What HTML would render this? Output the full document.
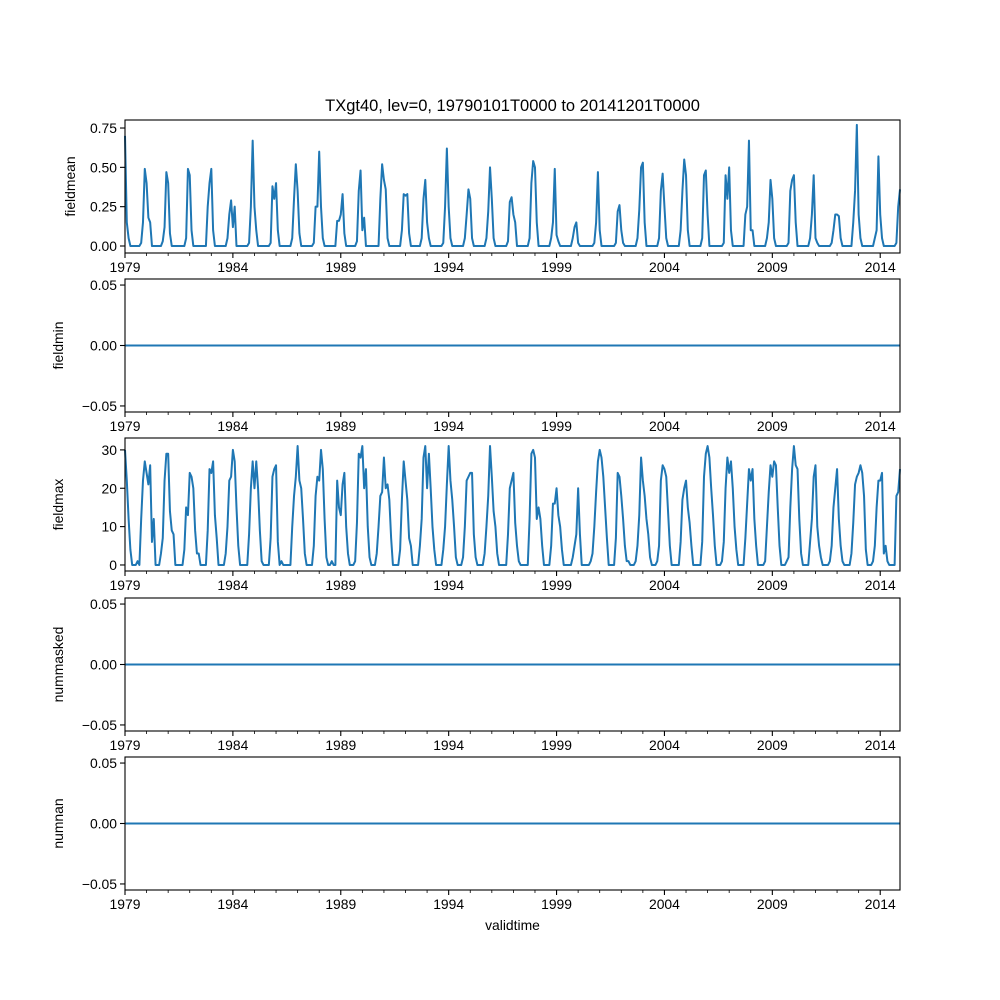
<!DOCTYPE html>
<html><head><meta charset="utf-8"><style>
body{margin:0;background:#fff;}
svg{display:block;font-family:"Liberation Sans","DejaVu Sans",sans-serif;}
</style></head><body>
<svg id="fig" width="1000" height="1000" viewBox="0 0 1000 1000"></svg>
<script>
const years = [1979,1984,1989,1994,1999,2004,2009,2014];
const meanTicks = [0, 0.25, 0.5, 0.75];
const meanTickLabels = ["0.00","0.25","0.50","0.75"];
const maxTicks = [0, 10, 20, 30];
const zeroTicks = [-0.05, 0, 0.05];
const zeroTickLabels = ["\u22120.05","0.00","0.05"];
const fieldmean = [
.70,.15,.05,0,0,0,0,0,0,.02,.15,.49,
.40,.18,.15,0,0,0,0,0,0,.03,.12,.47,
.40,.08,0,0,0,0,0,0,0,0,.05,.49,
.45,.10,0,0,0,0,0,0,0,0,.25,.40,
.49,.10,0,0,0,0,0,0,0,.05,.20,.29,
.12,.25,0,0,0,0,0,0,0,.02,.25,.67,
.25,.10,0,0,0,0,0,0,0,.02,.38,.30,
.40,.10,0,0,0,0,0,0,0,.05,.30,.52,
.35,.08,0,0,0,0,0,0,0,.02,.25,.25,
.60,.25,.05,0,0,0,0,0,0,0,.16,.16,
.20,.33,.08,0,0,0,0,0,0,.03,.35,.48,
.10,.18,0,0,0,0,0,0,0,0,.30,.52,
.42,.36,.05,0,0,0,0,0,0,0,.10,.33,
.32,.33,.08,0,0,0,0,0,0,.05,.30,.42,
.15,.05,0,0,0,0,0,0,0,.02,.25,.62,
.25,.05,0,0,0,0,0,0,0,.05,.20,.36,
.30,.05,0,0,0,0,0,0,0,.05,.22,.50,
.30,.05,0,0,0,0,0,0,0,.03,.28,.31,
.20,.15,0,0,0,0,0,0,0,.05,.40,.54,
.50,.15,0,0,0,0,0,0,0,.05,.15,.49,
.07,.03,0,0,0,0,0,0,0,.05,.12,.15,
.02,0,0,0,0,0,0,0,0,.02,.15,.47,
.10,0,0,0,0,0,0,0,0,.02,.22,.26,
.10,.02,0,0,0,0,0,0,0,.05,.23,.50,
.53,.15,0,0,0,0,0,0,0,.05,.35,.46,
.25,.05,0,0,0,0,0,0,0,.10,.35,.55,
.45,.10,0,0,0,0,0,0,0,.05,.45,.48,
.20,0,0,0,0,0,0,0,0,.02,.45,.30,
.50,.10,0,0,0,0,0,0,0,.20,.25,.67,
.10,.10,0,0,0,0,0,0,0,.05,.15,.42,
.30,.05,0,0,0,0,0,0,0,.02,.35,.42,
.45,.15,0,0,0,0,0,0,0,.05,.20,.45,
.05,.02,0,0,0,0,0,0,0,.02,.10,.20,
.20,.19,.05,0,0,0,0,0,0,.15,.35,.77,
.20,.05,0,0,0,0,0,0,0,.05,.10,.57,
.20,.05,0,0,0,0,0,0,0,.02,.25,.36];
const fieldmax = [
30,22,12,4,0,0,0,1,0,12,22,27,
24,21,26,6,12,0,0,0,3,7,22,29,
29,14,9,8,0,0,0,0,0,4,15,13,
24,23,20,9,3,3,0,0,0,0,9,25,
24,27,13,7,0,0,0,0,3,10,22,23,
30,27,15,5,0,0,0,0,0,8,20,27,
20,27,20,9,1,0,0,0,0,7,23,25,
26,6,0,1,0,0,0,0,0,10,18,23,
31,22,20,12,3,0,0,0,0,5,18,23,
22,30,25,12,2,0,0,1,0,0,22,15,
13,21,24,10,3,0,0,0,1,11,29,28,
31,20,25,10,2,0,0,0,3,10,18,19,
28,20,21,17,7,0,0,0,0,4,17,27,
22,17,7,5,0,0,0,0,5,12,28,31,
20,29,20,10,4,0,0,0,0,4,10,21,
31,22,17,10,2,0,0,0,2,10,22,23,
24,24,8,2,0,0,0,0,3,10,18,31,
23,14,10,3,0,0,0,0,0,8,20,22,
24,11,5,1,0,0,0,0,0,12,29,30,
28,12,15,12,5,0,0,0,0,5,16,16,
20,13,10,4,0,0,0,0,0,2,5,8,
20,8,0,0,0,0,0,1,3,10,19,27,
30,28,23,15,7,0,0,0,0,7,24,23,
18,12,5,1,1,0,0,0,1,5,13,28,
22,18,12,8,2,0,0,0,1,5,22,26,
25,23,14,5,0,0,0,0,0,6,17,20,
22,15,11,5,0,0,0,0,0,6,23,29,
31,28,20,13,5,0,0,0,1,6,20,28,
24,27,20,10,4,0,0,0,0,7,16,25,
22,25,12,5,0,0,0,0,1,10,19,26,
23,27,26,15,5,0,0,0,1,2,15,25,
31,26,25,12,3,0,0,0,0,6,12,23,
26,10,5,2,0,0,0,0,1,5,15,20,
25,12,5,1,0,0,0,0,3,11,21,23,
24,26,24,18,4,0,0,0,1,5,15,22,
22,24,3,5,1,0,0,0,0,18,19,25];
const fieldmin = new Array(fieldmean.length).fill(0);
const nummasked = new Array(fieldmean.length).fill(0);
const numnan = new Array(fieldmean.length).fill(0);

const NS="http://www.w3.org/2000/svg";
const svg=document.getElementById('fig');
function mk(tag,attrs,parent){const e=document.createElementNS(NS,tag);for(const k in attrs)e.setAttribute(k,attrs[k]);(parent||svg).appendChild(e);return e;}
const L=125,R=900;
const x0=1979, x1=2014+11/12;
function xs(t){return L+(t-x0)/(x1-x0)*(R-L);}

const panels=[
 {name:'fieldmean',top:120,bot:253,ymin:-0.0445,ymax:0.801,data:fieldmean,ticks:meanTicks,labels:meanTickLabels},
 {name:'fieldmin',top:279,bot:412,ymin:-0.055,ymax:0.055,data:fieldmin,ticks:zeroTicks,labels:zeroTickLabels},
 {name:'fieldmax',top:438,bot:571,ymin:-1.57,ymax:33.1,data:fieldmax,ticks:maxTicks,labels:maxTicks.map(String)},
 {name:'nummasked',top:598,bot:731,ymin:-0.055,ymax:0.055,data:nummasked,ticks:zeroTicks,labels:zeroTickLabels},
 {name:'numnan',top:757,bot:890,ymin:-0.055,ymax:0.055,data:numnan,ticks:zeroTicks,labels:zeroTickLabels}
];

const title=mk('text',{x:512.5,y:111,'text-anchor':'middle','font-size':'16.5'});
title.textContent='TXgt40, lev=0, 19790101T0000 to 20141201T0000';



panels.forEach(p=>{
  const g=mk('g',{});
  
  
  const ys=v=>p.bot-(v-p.ymin)/(p.ymax-p.ymin)*(p.bot-p.top);
  // line
  let d='';
  p.data.forEach((v,i)=>{d+=(i?'L':'M')+xs(x0+i/12).toFixed(2)+','+ys(v).toFixed(2);});
  const line=mk('path',{d:d,fill:'none',stroke:'#1f77b4','stroke-width':2,'stroke-linejoin':'round'},g);
  
  
  // frame
  const fr=mk('rect',{x:L,y:p.top,width:R-L,height:p.bot-p.top,fill:'none',stroke:'#000','stroke-width':1.1},g);
  
  
  // y ticks
  p.ticks.forEach((t,i)=>{
    const y=ys(t);
    mk('line',{x1:L-5,x2:L,y1:y,y2:y,stroke:'#000','stroke-width':1.1},g);
    const tx=mk('text',{x:L-8,y:y+5,'text-anchor':'end','font-size':'13.9'},g);
    tx.textContent=p.labels[i];
    
    
  });
  // minor x ticks
  for(let yr=1979;yr<=2014;yr++){
    const x=xs(yr);
    const major=years.includes(yr);
    mk('line',{x1:x,x2:x,y1:p.bot,y2:p.bot+(major?5:3),stroke:'#000','stroke-width':major?1.1:0.8},g);
  }
  years.forEach(yr=>{
    const tx=mk('text',{x:xs(yr),y:p.bot+19,'text-anchor':'middle','font-size':'13.9'},g);
    tx.textContent=String(yr);
    
    
  });
  const cy=(p.top+p.bot)/2;
  const yl=mk('text',{x:0,y:0,'text-anchor':'middle','font-size':'13.9',transform:`translate(${p.name==='fieldmean'?75:63},${cy}) rotate(-90)`},g);
  yl.textContent=p.name;
  
  
});
const xl=mk('text',{x:512.5,y:930,'text-anchor':'middle','font-size':'13.9'});
xl.textContent='validtime';


</script>
</body></html>
